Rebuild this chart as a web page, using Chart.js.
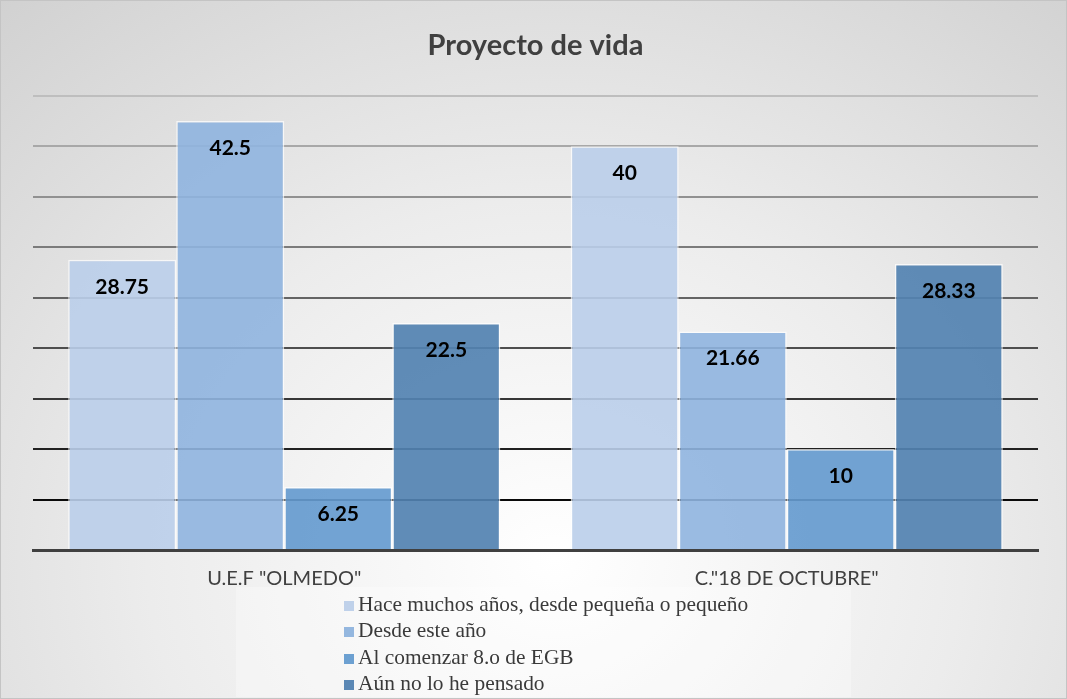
<!DOCTYPE html>
<html>
<head>
<meta charset="utf-8">
<script src="https://cdn.jsdelivr.net/npm/chart.js@4"></script>
<style>
  html, body { margin: 0; padding: 0; }
  #wrap {
    position: relative;
    width: 1067px;
    height: 699px;
    box-sizing: border-box;
    border: 1px solid #c4c4c4;
    background: radial-gradient(ellipse 85% 115% at 52% 80%, #ffffff 0%, #ececec 45%, #cdcdcd 100%);
    overflow: hidden;
  }
  #weekChart { position: absolute; left: 0; top: 0; }
  #legendBox {
    position: absolute;
    left: 235px;
    top: 586px;
    width: 615px;
    height: 110px;
    background: rgba(255, 255, 255, 0.3);
  }
  #legend {
    position: absolute;
    left: 343px;
    top: 590px;
    font-family: "Liberation Serif", "Times New Roman", serif;
    font-size: 21.4px;
    color: #3a3a3a;
  }
  .item { height: 26.3px; line-height: 26.3px; white-space: nowrap; }
  .box { display: inline-block; width: 10px; height: 10px; margin-right: 4px; vertical-align: 0px; }
</style>
</head>
<body>
<div id="wrap">
  <canvas id="weekChart" width="1067" height="699"></canvas>
  <div id="legendBox"></div>
  <div id="legend"></div>
</div>
<script>
const categories = ['U.E.F "OLMEDO"', 'C."18 DE OCTUBRE"'];
const seriesNames = [
  "Hace muchos años, desde pequeña o pequeño",
  "Desde este año",
  "Al comenzar 8.o de EGB",
  "Aún no lo he pensado",
];
const haceMuchos = [28.75, 40];
const desdeEste = [42.5, 21.66];
const alComenzar = [6.25, 10];
const aunNo = [22.5, 28.33];
const seriesColors = [
  "rgba(186, 206, 234, 0.9)",
  "rgba(143, 180, 223, 0.9)",
  "rgba(102, 155, 207, 0.92)",
  "rgba(83, 130, 177, 0.92)",
];
const legendColors = ["#bfd1ea", "#94b7df", "#6ca0d1", "#5b88b5"];

const allSeries = [haceMuchos, desdeEste, alComenzar, aunNo];

// value labels inside the top of each bar
const barLabels = {
  id: "barLabels",
  afterDatasetsDraw(chart) {
    const { ctx } = chart;
    ctx.save();
    ctx.font = "bold 21px Lato, 'Open Sans', sans-serif";
    ctx.fillStyle = "#000";
    ctx.textAlign = "center";
    ctx.textBaseline = "middle";
    chart.data.datasets.forEach((ds, i) => {
      chart.getDatasetMeta(i).data.forEach((bar, j) => {
        ctx.fillText(String(ds.data[j]), bar.x, bar.y + 27);
      });
    });
    ctx.restore();
  },
};

const gridColor = (v) => {
  if (v === 0) return "rgba(0,0,0,0)";
  const t = (v - 5) / 40;
  const c = Math.round(10 + t * 180);
  return `rgb(${c},${c},${c})`;
};

const ctx = document.getElementById("weekChart");

new Chart(ctx, {
  type: "bar",
  data: {
    labels: categories,
    datasets: allSeries.map((data, i) => ({
      label: seriesNames[i],
      data: data,
      backgroundColor: seriesColors[i],
      borderColor: "rgba(255,255,255,0.7)",
      borderWidth: 1.5,
      borderSkipped: "bottom",
      categoryPercentage: 0.86,
      barPercentage: 1,
    })),
  },
  options: {
    responsive: false,
    animation: false,
    layout: {
      padding: { left: 32, right: 30, top: 0, bottom: 92 },
    },
    scales: {
      x: {
        grid: { display: false, drawTicks: false },
        border: { display: true, color: "#404040", width: 3 },
        ticks: {
          color: "#404040",
          padding: 17,
          font: { family: "Lato, 'Open Sans', sans-serif", size: 20 },
        },
      },
      y: {
        min: 0,
        max: 45,
        ticks: { display: false, stepSize: 5 },
        border: { display: false },
        grid: {
          drawTicks: false,
          lineWidth: 2,
          color: (c) => gridColor(c.tick.value),
        },
      },
    },
    plugins: {
      legend: { display: false },
      tooltip: { enabled: false },
      title: {
        display: true,
        text: "Proyecto de vida",
        color: "#404040",
        font: { family: "Lato, 'Open Sans', sans-serif", size: 29, weight: "bold" },
        padding: { top: 27, bottom: 33 },
      },
    },
  },
  plugins: [barLabels],
});

const legendEl = document.getElementById("legend");
seriesNames.forEach((name, i) => {
  const row = document.createElement("div");
  row.className = "item";
  const box = document.createElement("span");
  box.className = "box";
  box.style.background = legendColors[i];
  row.appendChild(box);
  row.appendChild(document.createTextNode(name));
  legendEl.appendChild(row);
});
</script>
</body>
</html>
